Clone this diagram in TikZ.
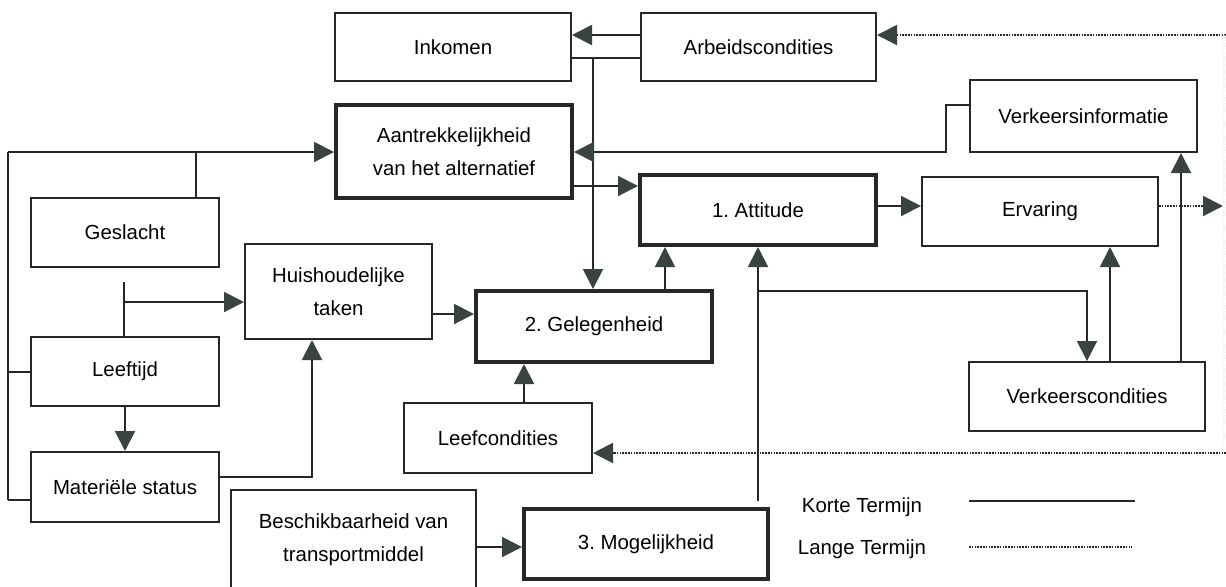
\documentclass[tikz,border=0pt]{standalone}
\usepackage{fontspec}
\setmainfont{Liberation Sans}
\usetikzlibrary{arrows.meta}
\definecolor{linegray}{RGB}{38, 40, 40}
\definecolor{tipgray}{RGB}{58, 66, 66}
\frenchspacing

\begin{document}
\begin{tikzpicture}[x=0.5pt, y=-0.5pt,
  box/.style={draw=linegray, line width=1pt, inner sep=0pt, align=center,
    font=\fontsize{10.2}{16.5}\selectfont},
  keybox/.style={box, line width=2pt},
  plain/.style={draw=linegray, line width=1pt},
  conn/.style={plain, -{Triangle[length=10pt, width=10pt, color=tipgray]}},
  longterm/.style={conn, dash pattern=on 0.8pt off 0.6pt}]

  \useasboundingbox (0,0) rectangle (1226,586);
  \clip (0,0) rectangle (1226,586);

  % ── Boxes ─────────────────────────────────────────────────────────────────
  \node[box, minimum width=118pt, minimum height=34pt] (ink) at (453,47) {Inkomen};
  \node[box, minimum width=117.5pt, minimum height=34pt] (arb) at (758.5,47) {Arbeidscondities};
  \node[keybox, minimum width=118pt, minimum height=46.5pt] (aan) at (454,151.5)
    {Aantrekkelijkheid\\van het alternatief};
  \node[box, minimum width=113.5pt, minimum height=36pt] (verkinfo) at (1083.5,116) {Verkeersinformatie};
  \node[box, minimum width=94pt, minimum height=34.5pt] (ges) at (125,232.5) {Geslacht};
  \node[keybox, minimum width=118pt, minimum height=35pt] (att) at (758,210) {1. Attitude};
  \node[box, minimum width=118pt, minimum height=34.5pt] (erv) at (1040,211.5) {Ervaring};
  \node[box, minimum width=93.5pt, minimum height=47.5pt] (huis) at (338.5,291.5)
    {Huishoudelijke\\taken};
  \node[keybox, minimum width=118pt, minimum height=35.5pt] (gel) at (594,326.5) {2. Gelegenheid};
  \node[box, minimum width=94pt, minimum height=34.5pt] (lee) at (125,371.5) {Leeftijd};
  \node[box, minimum width=118pt, minimum height=34.5pt] (verkc) at (1087,396.5) {Verkeerscondities};
  \node[box, minimum width=94pt, minimum height=35pt] (leef) at (498,438) {Leefcondities};
  \node[box, minimum width=94pt, minimum height=35pt] (mat) at (125,487) {Materiële status};
  \node[box, minimum width=122.5pt, minimum height=50pt] (besch) at (353.5,540)
    {Beschikbaarheid van\\transportmiddel};
  \node[keybox, minimum width=122pt, minimum height=35pt] (mog) at (646,544) {3. Mogelijkheid};

  % ── Top: income and working conditions ───────────────────────────────────
  \draw[conn] (arb.west |- 0,35) -- (ink.east |- 0,35);
  \coordinate (splitA) at (593,58);
  \draw[plain] (ink.east |- splitA) -- (arb.west |- splitA);
  \draw[conn] (splitA) -- (splitA |- gel.north);
  \draw[longterm] (1226,35) -- (arb.east |- 0,35);

  % ── Traffic information feeds attractiveness ─────────────────────────────
  \coordinate (bendV) at (946,105);
  \draw[conn] (verkinfo.west |- bendV) -- (bendV) -- (bendV |- 0,152) -- (aan.east |- 0,152);
  \draw[conn] (aan.east |- 0,186) -- (att.west |- 0,186);

  % ── Left bus: personal factors ───────────────────────────────────────────
  \coordinate (busTop) at (8,152);
  \coordinate (busBot) at (8,500);
  \draw[plain] (busBot) -- (busTop);
  \draw[conn] (busTop) -- (aan.west |- busTop);
  \draw[plain] (ges.north -| 196,0) -- (196,152);
  \draw[plain] (lee.west |- 0,372) -- (8,372);
  \draw[plain] (mat.west |- busBot) -- (busBot);

  % ── Household tasks ──────────────────────────────────────────────────────
  \coordinate (ageUp) at (124,282);
  \draw[plain] (ageUp |- lee.north) -- (ageUp);
  \draw[conn] (124,302) -- (huis.west |- 0,302);
  \draw[conn] (huis.east |- 0,314) -- (gel.west |- 0,314);
  \draw[conn] (lee.south) -- (mat.north);
  \draw[conn] (mat.east |- 0,477) -- (312,477) -- (312,0 |- huis.south);

  % ── Opportunity ──────────────────────────────────────────────────────────
  \draw[conn] (leef.north -| 524,0) -- (gel.south -| 524,0);
  \draw[longterm] (1226,453) -- (leef.east |- 0,453);
  \draw[conn] (gel.north -| 665,0) -- (att.south -| 665,0);
  \draw[conn] (besch.east |- 0,547) -- (mog.west |- 0,547);

  % ── Possibility, traffic conditions, experience ──────────────────────────
  \coordinate (mogUp) at (758,291);
  \draw[conn] ([yshift=3pt]mog.north -| mogUp) -- (mogUp |- att.south);
  \draw[conn] (mogUp) -- (verkc.north |- mogUp) -- (verkc.north);
  \draw[conn] (verkc.north -| 1110,0) -- (erv.south -| 1110,0);
  \draw[conn] (verkc.north -| 1181,0) -- (verkinfo.south -| 1181,0);
  \draw[conn] (att.east |- 0,206) -- (erv.west |- 0,206);
  \draw[longterm] (erv.east |- 0,206) -- (1223,206);
  \draw[gray!15, line width=0.8pt, dash pattern=on 0.6pt off 0.7pt] (1224,35) -- (1224,453);

  % ── Legend ───────────────────────────────────────────────────────────────
  \node[font=\fontsize{10.2}{12}\selectfont] (korte) at (862,507) {Korte Termijn};
  \node[font=\fontsize{10.2}{12}\selectfont] (lange) at (862,549) {Lange Termijn};
  \draw[plain] (969,501) -- (1135,501);
  \draw[linegray, line width=1pt, dash pattern=on 0.8pt off 0.6pt] (969,547) -- (1132,547);

\end{tikzpicture}
\end{document}
